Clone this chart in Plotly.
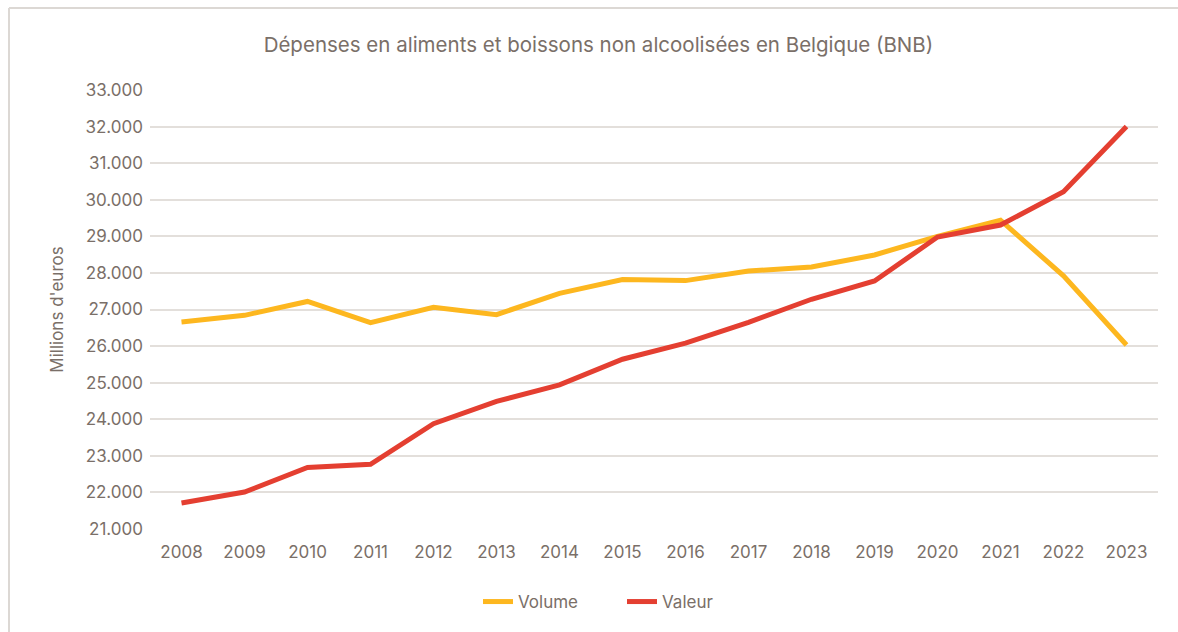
import plotly.graph_objects as go

years = ["2008", "2009", "2010", "2011", "2012", "2013", "2014", "2015",
         "2016", "2017", "2018", "2019", "2020", "2021", "2022", "2023"]
volume = [26660, 26840, 27220, 26640, 27060, 26860, 27440, 27820,
          27790, 28050, 28160, 28490, 29000, 29440, 27920, 26030]
valeur = [21710, 22010, 22680, 22770, 23880, 24490, 24940, 25640,
          26080, 26650, 27280, 27780, 28980, 29310, 30220, 32000]
y_ticks = list(range(21000, 33001, 1000))
y_labels = [f"{v // 1000}.000" for v in y_ticks]

TXT = "#7a6f68"
GRID = "#e3dfdb"
FONT = "Inter, Roboto, sans-serif"

fig = go.Figure()
fig.add_trace(go.Scatter(x=years, y=volume, name="Volume", mode="lines",
                         line=dict(color="#FDB71F", width=5)))
fig.add_trace(go.Scatter(x=years, y=valeur, name="Valeur", mode="lines",
                         line=dict(color="#E43F31", width=5)))

fig.update_layout(
    width=1178, height=632,
    paper_bgcolor="white", plot_bgcolor="white",
    margin=dict(l=150, r=20, t=90, b=103, autoexpand=False),
    font=dict(family=FONT, color=TXT, size=17),
    title=dict(text="Dépenses en aliments et boissons non alcoolisées en Belgique (BNB)",
               x=0.508, xanchor="center", y=0.929, yanchor="middle",
               font=dict(size=20.5, color=TXT, family=FONT)),
    xaxis=dict(type="category", range=[-0.5, 15.5], showgrid=False,
               showline=False, ticks="", tickfont=dict(size=17, color=TXT),
               ticklabelstandoff=11),
    yaxis=dict(range=[21000, 33000], tickvals=y_ticks, ticktext=y_labels,
               showgrid=True, gridcolor=GRID, gridwidth=2, zeroline=False,
               showline=False, ticks="", tickfont=dict(size=17, color=TXT),
               ticklabelstandoff=6,
               title=dict(text="Millions d'euros", font=dict(size=17, color=TXT),
                          standoff=17)),
    legend=dict(orientation="h", x=(478 - 150) / 1008, xanchor="left",
                yref="container", y=(632 - 602) / 632,
                yanchor="middle", font=dict(size=17, color=TXT),
                entrywidth=99, entrywidthmode="pixels",
                traceorder="normal"),
    showlegend=True,
)

# outer frame lines (left and top)
fig.add_shape(type="line", xref="paper", yref="paper",
              x0=(9 - 150) / 1008, x1=(9 - 150) / 1008,
              y0=(632 - 8 - 103) / 439, y1=-103 / 439 - 0.01,
              line=dict(color="#dcd8d4", width=2))
fig.add_shape(type="line", xref="paper", yref="paper",
              x0=(9 - 150) / 1008, x1=(1178 - 150) / 1008,
              y0=(632 - 8 - 103) / 439, y1=(632 - 8 - 103) / 439,
              line=dict(color="#dcd8d4", width=2))

fig.write_html("out.html", config={"displayModeBar": False},
               post_script="document.body.style.margin='0px';document.body.style.overflow='hidden';")
